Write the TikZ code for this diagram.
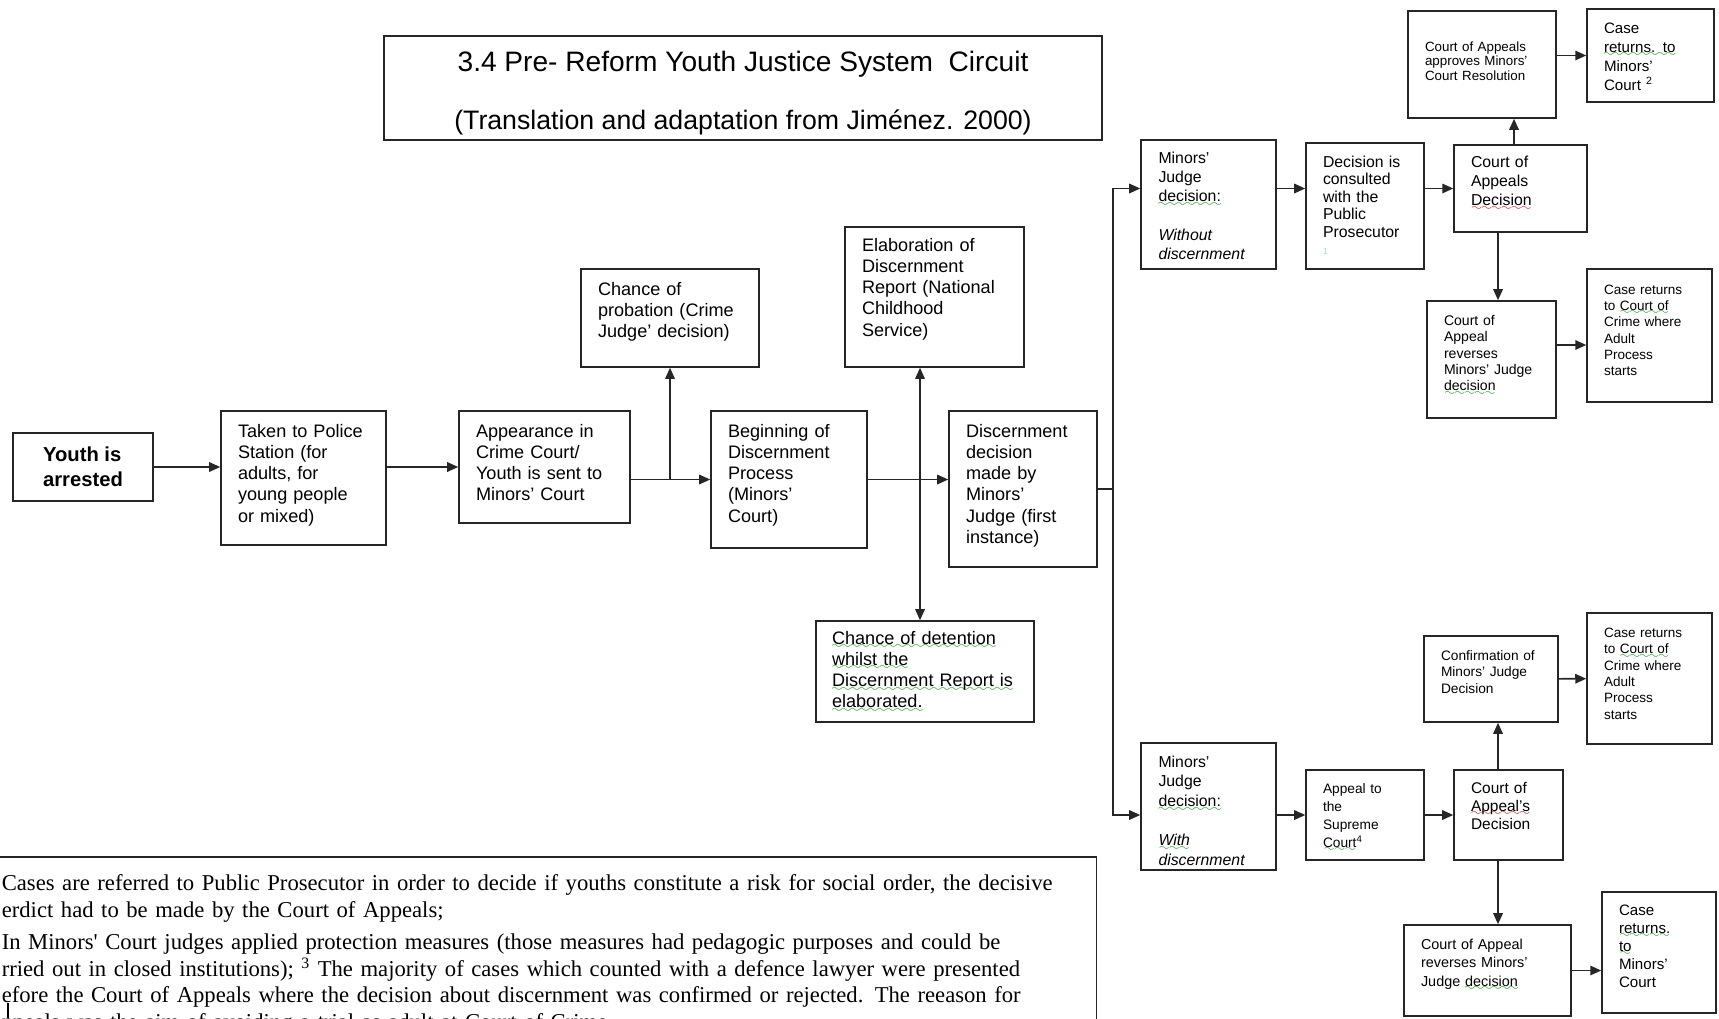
\documentclass[tikz,border=0pt]{standalone}
\usepackage{fontspec}
\setmainfont{Liberation Sans}
\newfontfamily\notefont{Liberation Serif}
\usetikzlibrary{arrows.meta,calc}

% spell-check squiggles under some words
\newsavebox\spellbox
\font\sixly=lasy6
\newcommand{\squiggle}[2]{\leavevmode\sbox\spellbox{#2}\rlap{\raisebox{-2.6pt}[0pt][0pt]{\makebox[\wd\spellbox][l]{\color{#1}\xleaders\hbox{\sixly\char58}\hfill}}}\usebox\spellbox}
\newcommand{\spellg}[1]{\squiggle{green!60!black}{#1}}
\newcommand{\spellr}[1]{\squiggle{red!85!black}{#1}}

\begin{document}
\begin{tikzpicture}[x=0.02cm, y=-0.02cm,
    >={Triangle[length=0.22cm, width=0.19cm]},
    box/.style={draw=black!85, line width=0.9pt, align=left, inner xsep=0.34cm, inner ysep=0pt},
    line/.style={draw=black!85, line width=0.9pt},
    mid/.style={font=\fontsize{10.3}{12.1}\selectfont}]
    \clip (0,0) rectangle (1719,1018);
    \fill[white] (0,0) rectangle (1719,1018);

    % title
    \node[box, align=center, minimum width=14.36cm, minimum height=2.08cm,
          font=\fontsize{15.2}{18}\selectfont] (title) at (743,88)
          {\rule{0pt}{17.5pt}{\fontsize{16}{18}\selectfont 3.4 Pre- Reform Youth Justice System\ \ Circuit}\\[15pt](Translation and adaptation from Jiménez. 2000)};

    % main line
    \node[box, align=left, inner xsep=0pt, minimum width=2.8cm, minimum height=1.36cm,
          font=\fontsize{11.5}{14}\selectfont\bfseries] (youth) at (83,467) {Youth is\\arrested};
    \node[box, mid, minimum width=3.3cm, text height=0.52cm, text depth=2.16cm, text width=2.62cm] (police) at (303.5,478)
          {Taken to Police\\Station (for\\adults, for\\young people\\or mixed)};
    \node[box, mid, minimum width=3.42cm, text height=0.52cm, text depth=1.72cm, text width=2.74cm] (court) at (544.5,467)
          {Appearance in\\Crime Court/\\Youth is sent to\\Minors' Court};
    \node[box, mid, minimum width=3.56cm, text height=0.52cm, text depth=1.44cm, text width=2.88cm] (probation) at (670,318)
          {Chance of\\probation (Crime\\Judge' decision)};
    \node[box, mid, minimum width=3.12cm, text height=0.52cm, text depth=2.22cm, text width=2.44cm] (beginning) at (789,479.5)
          {Beginning of\\Discernment\\Process\\(Minors'\\Court)};
    \node[box, mid, minimum width=3.58cm, text height=0.48cm, text depth=2.32cm, text width=2.9cm] (report) at (934.5,297)
          {Elaboration of\\Discernment\\Report (National\\Childhood\\Service)};
    \node[box, mid, minimum width=2.96cm, text height=0.52cm, text depth=2.6cm, text width=2.28cm] (decision) at (1023,489)
          {Discernment\\decision\\made by\\Minors'\\Judge (first\\instance)};
    \node[box, mid, inner xsep=0.32cm, minimum width=4.36cm, text height=0.46cm, text depth=1.56cm, text width=3.72cm] (detention) at (925,671.5)
          {\spellg{Chance of detention}\\\spellg{whilst the}\\\spellg{Discernment Report is}\\\spellg{elaborated.}};

    % without discernment
    \node[box, font=\fontsize{9}{11}\selectfont, minimum width=2.7cm, text height=0.46cm, text depth=2.12cm, text width=2.0cm] (without) at (1208.5,204.5)
          {Minors'\\Judge\\\spellg{decision:}\\[11pt]\textit{Without}\\\textit{discernment}};
    \node[box, font=\fontsize{9}{10}\selectfont, minimum width=2.36cm, text height=0.48cm, text depth=2.04cm, text width=1.68cm] (consulted) at (1365,206)
          {Decision is\\consulted\\with the\\Public\\Prosecutor\\{\tiny\color{cyan!40}1}};
    \node[box, font=\fontsize{9}{11}\selectfont, minimum width=2.66cm, text height=0.44cm, text depth=1.3cm, text width=1.98cm] (coadec) at (1520.5,188.5)
          {Court of\\Appeals\\\spellr{Decision}};
    \node[box, font=\fontsize{7.6}{8.4}\selectfont, minimum width=2.96cm, text height=0.8cm, text depth=1.34cm, text width=2.28cm] (approves) at (1482,64.5)
          {Court of Appeals\\approves Minors'\\Court Resolution};
    \node[box, font=\fontsize{8.6}{11}\selectfont, minimum width=2.54cm, text height=0.48cm, text depth=1.38cm, text width=1.86cm] (casetop) at (1650.5,55.5)
          {Case\\\spellg{returns. to}\\Minors'\\Court \textsuperscript{2}};
    \node[box, font=\fontsize{8}{9.3}\selectfont, minimum width=2.58cm, text height=0.49cm, text depth=1.85cm, text width=1.9cm] (reverses) at (1491.5,359.5)
          {Court of\\Appeal\\reverses\\Minors' Judge\\\spellg{decision}};
    \node[box, font=\fontsize{7.7}{9.3}\selectfont, minimum width=2.5cm, text height=0.5cm, text depth=2.16cm, text width=1.82cm] (crimetop) at (1649.5,335.5)
          {Case returns\\to \spellg{Court of}\\Crime where\\Adult\\Process\\starts};

    % with discernment
    \node[box, font=\fontsize{9}{11.3}\selectfont, minimum width=2.7cm, text height=0.48cm, text depth=2.06cm, text width=2.0cm] (with) at (1208.5,806.5)
          {Minors'\\Judge\\\spellg{decision:}\\[11pt]\textit{\spellg{With}}\\\textit{discernment}};
    \node[box, font=\fontsize{7.8}{10.2}\selectfont, minimum width=2.36cm, text height=0.47cm, text depth=1.33cm, text width=1.68cm] (appeal) at (1365,815)
          {Appeal to\\the\\Supreme\\\spellg{Court}\textsuperscript{4}};
    \node[box, font=\fontsize{8.8}{10.3}\selectfont, minimum width=2.18cm, text height=0.46cm, text depth=1.34cm, text width=1.5cm] (coabot) at (1508.5,815)
          {Court of\\\spellr{Appeal's}\\Decision};
    \node[box, font=\fontsize{7.8}{9.3}\selectfont, minimum width=2.68cm, text height=0.49cm, text depth=1.23cm, text width=2.0cm] (confirm) at (1491,679)
          {Confirmation of\\Minors' Judge\\Decision};
    \node[box, font=\fontsize{7.7}{9.3}\selectfont, minimum width=2.5cm, text height=0.49cm, text depth=2.13cm, text width=1.82cm] (crimebot) at (1649.5,678.5)
          {Case returns\\to \spellg{Court of}\\Crime where\\Adult\\Process\\starts};
    \node[box, font=\fontsize{8.2}{10.5}\selectfont, minimum width=3.34cm, text height=0.49cm, text depth=1.33cm, text width=2.66cm] (revbot) at (1487.5,970.5)
          {Court of Appeal\\reverses Minors'\\Judge \spellg{decision}};
    \node[box, font=\fontsize{8.6}{10.3}\selectfont, minimum width=2.28cm, text height=0.46cm, text depth=1.96cm, text width=1.6cm] (casebot) at (1659,952.5)
          {Case\\\spellg{returns.}\\\spellg{to}\\Minors'\\Court};

    % footnotes
    \node[draw=black!85, line width=0.9pt, anchor=north west, align=left, text width=21.48cm,
          inner xsep=0.42cm, inner ysep=0.36cm, font=\notefont\fontsize{12.9}{15}\selectfont] (notes) at (-20,856)
          {Cases are referred to Public Prosecutor in order to decide if youths constitute a risk for social order, the decisive\\
           erdict had to be made by the Court of Appeals;\\[3.7pt]
           In Minors' Court judges applied protection measures (those measures had pedagogic purposes and could be\\
           rried out in closed institutions); \textsuperscript{3} The majority of cases which counted with a defence lawyer were presented\\
           efore the Court of Appeals where the decision about discernment was confirmed or rejected. The reeason for\\
           ppeals was the aim of avoiding a trial as adult at Court of Crime.};
    \draw[line width=1.2pt] (8,1003) -- (8,1018);

    % connectors
    \coordinate (trunk) at (1113,0);
    \coordinate (vline) at (920,0);
    \coordinate (colA) at (1498,0);
    \coordinate (colB) at (1514,0);
    \coordinate (revrow) at (0,345);

    \draw[line, ->] (youth) -- (youth -| police.west);
    \draw[line, ->] (police.east |- court) -- (court.west);
    \draw[line, ->] (court.east |- beginning) -- (beginning.west);
    \draw[line, ->] (probation |- beginning) -- (probation.south);
    \draw[line, ->] (beginning.east) -- (beginning.east -| decision.west);
    \draw[line, <->] (report.south -| vline) -- (detention.north -| vline);

    \draw[line, ->] (decision.east) -- (decision.east -| trunk) |- (without.west |- coadec);
    \draw[line, ->] (decision.east -| trunk) |- (with.west |- appeal);

    \draw[line, ->] (without.east |- coadec) -- (consulted.west |- coadec);
    \draw[line, ->] (consulted.east |- coadec) -- (coadec.west);
    \draw[line, ->] (coadec.north -| colB) -- (approves.south -| colB);
    \draw[line, ->] (approves.east |- casetop) -- (casetop.west);
    \draw[line, ->] (coadec.south -| colA) -- (reverses.north -| colA);
    \draw[line, ->] (reverses.east |- revrow) -- (crimetop.west |- revrow);

    \draw[line, ->] (with.east |- appeal) -- (appeal.west);
    \draw[line, ->] (appeal) -- (coabot);
    \draw[line, ->] (coabot.north -| colA) -- (confirm.south -| colA);
    \draw[line, ->] (confirm) -- (crimebot);
    \draw[line, ->] (coabot.south -| colA) -- (revbot.north -| colA);
    \draw[line, ->] (revbot.east) -- (revbot.east -| casebot.west);
\end{tikzpicture}
\end{document}
